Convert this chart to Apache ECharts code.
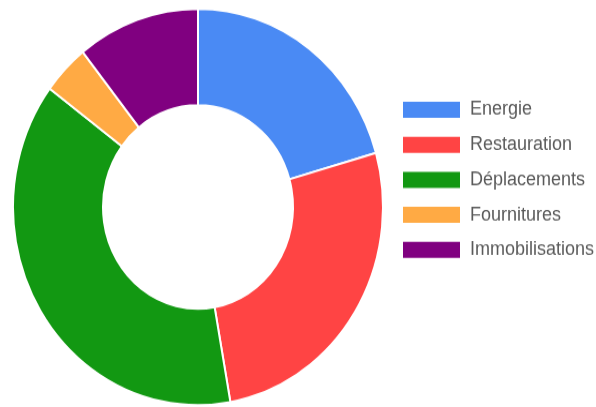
<!DOCTYPE html>
<html>
<head>
<meta charset="utf-8">
<script src="https://cdn.jsdelivr.net/npm/echarts@6/dist/echarts.min.js"></script>
<style>
html,body{margin:0;padding:0;background:#fff;overflow:hidden;}
#wrap{width:596px;height:407px;overflow:hidden;}
#c{width:596px;height:380px;transform:scaleY(1.071);transform-origin:0 0;}
</style>
</head>
<body>
<div id="wrap"><div id="c"></div></div>
<script>
const categories = ['Energie', 'Restauration', 'Déplacements', 'Fournitures', 'Immobilisations'];
const values = [20.6, 26.6, 38.0, 4.1, 10.7];
const colors = ['#4a8af4', '#ff4444', '#129812', '#ffaa44', '#800080'];

const chart = echarts.init(document.getElementById('c'), null, {renderer: 'canvas'});
chart.setOption({
  animation: false,
  color: colors,
  legend: {
    orient: 'vertical',
    left: 403,
    top: 93.5,
    padding: 0,
    itemWidth: 57,
    itemHeight: 15,
    itemGap: 14.7,
    icon: 'rect',
    itemStyle: {borderWidth: 0},
    data: categories,
    textStyle: {
      fontFamily: 'Liberation Sans, Arial, sans-serif',
      fontSize: 18,
      lineHeight: 18,
      color: '#5a5a5a',
      padding: [0, 0, 0, 5]
    }
  },
  series: [{
    type: 'pie',
    center: [198, 193.3],
    radius: [95, 185],
    startAngle: 90,
    clockwise: true,
    label: {show: false},
    labelLine: {show: false},
    emphasis: {disabled: true},
    itemStyle: {borderColor: '#fff', borderWidth: 2},
    data: categories.map((n, i) => ({name: n, value: values[i]}))
  }]
});
</script>
</body>
</html>
